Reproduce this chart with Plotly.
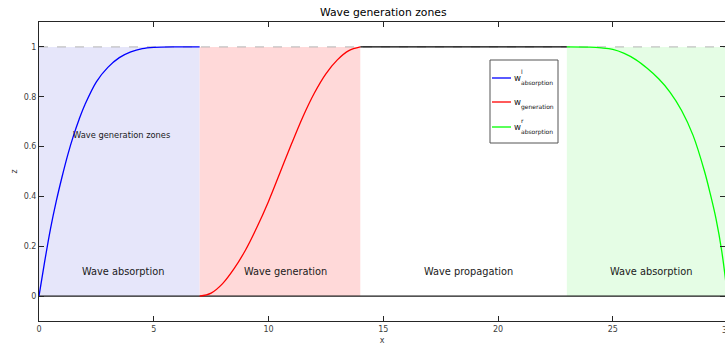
import plotly.graph_objects as go

# Relaxation-zone weighting curves
x_abs_left = [0.0, 0.25, 0.5, 0.75, 1.0, 1.25, 1.5, 1.75, 2.0, 2.5, 3.0, 3.5, 4.0, 4.5, 5.0, 6.0, 7.0]
w_abs_left = [0.0, 0.14, 0.27, 0.38, 0.477, 0.566, 0.643, 0.71, 0.768, 0.86, 0.918, 0.957, 0.98, 0.993, 0.998, 1.0, 1.0]

x_gen = [7.0, 7.5, 8.0, 8.5, 9.0, 9.5, 10.0, 10.5, 11.0, 11.5, 12.0, 12.5, 13.0, 13.5, 14.0]
w_gen = [0.0, 0.012, 0.05, 0.11, 0.185, 0.277, 0.38, 0.495, 0.61, 0.72, 0.815, 0.892, 0.948, 0.985, 1.0]

x_prop = [14.0, 23.0]
w_prop = [1.0, 1.0]

x_abs_right = [23.0, 24.0, 24.5, 25.0, 25.5, 26.0, 26.5, 27.0, 27.5, 28.0, 28.5, 29.0, 29.25, 29.5, 29.75, 30.0]
w_abs_right = [1.0, 0.999, 0.996, 0.99, 0.974, 0.949, 0.914, 0.872, 0.818, 0.745, 0.645, 0.5, 0.41, 0.31, 0.18, 0.0]

# Zones
zone_edges = [0, 7, 14, 23, 30]
zone_fills = ["#e6e6fa", "#ffd9d9", None, "#e5fde5"]
zone_names = ["Wave absorption", "Wave generation", "Wave propagation", "Wave absorption"]
zone_label_x = [1.8, 8.85, 16.7, 24.8]
zone_label_y = 0.1

x_ticks = [0, 5, 10, 15, 20, 25, 30]
y_ticks = [0, 0.2, 0.4, 0.6, 0.8, 1]

legend_labels = [
    ("w", "l", "absorption", "#0000ff"),
    ("w", "", "generation", "#ff0000"),
    ("w", "r", "absorption", "#00ff00"),
]

W, H = 725, 347
ML, MR, MT, MB = 39, 0, 22, 26
PW, PH = W - ML - MR, H - MT - MB
X_SCALE = 22.95          # pixels per x unit; the x axis runs slightly past the right edge
X_MAX = PW / X_SCALE

def px(x):
    return (x - ML) / PW

def py(y):
    return (H - MB - y) / PH

FONT = "DejaVu Sans"

fig = go.Figure()

shapes = []
for i, fc in enumerate(zone_fills):
    if fc is None:
        continue
    shapes.append(dict(type="rect", xref="x", yref="y", x0=zone_edges[i], x1=zone_edges[i + 1],
                       y0=0, y1=1, fillcolor=fc, line=dict(width=0), layer="below"))
# dashed reference line at unit weight
shapes.append(dict(type="line", xref="x", yref="y", x0=zone_edges[0], x1=zone_edges[-1],
                   y0=1, y1=1, line=dict(color="#b4b4b4", width=1, dash="dash"), layer="below"))

# baseline
fig.add_trace(go.Scatter(x=[zone_edges[0], zone_edges[-1]], y=[0, 0], mode="lines",
                         line=dict(color="#1a1a1a", width=1.2), showlegend=False, hoverinfo="skip"))
fig.add_trace(go.Scatter(x=x_prop, y=w_prop, mode="lines",
                         line=dict(color="#000000", width=1.2), showlegend=False))
fig.add_trace(go.Scatter(x=x_abs_left, y=w_abs_left, mode="lines", line_shape="spline",
                         line=dict(color="#0000ff", width=1.3, smoothing=1.0), showlegend=False))
fig.add_trace(go.Scatter(x=x_gen, y=w_gen, mode="lines", line_shape="spline",
                         line=dict(color="#ff0000", width=1.3, smoothing=1.0), showlegend=False))
fig.add_trace(go.Scatter(x=x_abs_right, y=w_abs_right, mode="lines", line_shape="spline",
                         line=dict(color="#00ff00", width=1.3, smoothing=1.0), showlegend=False))

annotations = []
for name, lx in zip(zone_names, zone_label_x):
    annotations.append(dict(x=lx, y=zone_label_y, xref="x", yref="y", text=name, showarrow=False,
                            xanchor="left", yanchor="middle", font=dict(size=9.8, color="#1a1a1a", family=FONT)))
annotations.append(dict(x=1.4, y=0.645, xref="x", yref="y", text="Wave generation zones", showarrow=False,
                        xanchor="left", yanchor="middle", font=dict(size=8.3, color="#1a1a1a", family=FONT)))
# the last tick label sits just past the right edge
annotations.append(dict(x=px(ML + 30 * X_SCALE), y=py(H - MB + 9), xref="paper", yref="paper", text="30",
                        showarrow=False, xanchor="center", yanchor="middle",
                        font=dict(size=8, color="#404040", family=FONT)))

# legend box
shapes.append(dict(type="rect", xref="paper", yref="paper", x0=px(490), x1=px(558), y0=py(143), y1=py(60),
                   fillcolor="white", line=dict(color="#555555", width=1)))
row_y = [78, 102, 127]
for (base, sup, sub, col), ry in zip(legend_labels, row_y):
    shapes.append(dict(type="line", xref="paper", yref="paper", x0=px(492), x1=px(511),
                       y0=py(ry), y1=py(ry), line=dict(color=col, width=1.3)))
    annotations.append(dict(x=px(512), y=py(ry), xref="paper", yref="paper", text=base, showarrow=False,
                            xanchor="left", yanchor="middle", font=dict(size=8.5, color="#111", family=FONT)))
    if sup:
        annotations.append(dict(x=px(519), y=py(ry - 7), xref="paper", yref="paper", text=sup, showarrow=False,
                                xanchor="left", yanchor="middle", font=dict(size=6, color="#111", family=FONT)))
    annotations.append(dict(x=px(518.5), y=py(ry + 5), xref="paper", yref="paper", text=sub, showarrow=False,
                            xanchor="left", yanchor="middle", font=dict(size=6, color="#111", family=FONT)))

axis_common = dict(showline=True, linecolor="#262626", linewidth=1, mirror="allticks",
                   ticks="inside", ticklen=5, tickcolor="#262626", tickwidth=1,
                   showgrid=False, zeroline=False,
                   tickfont=dict(size=8, color="#404040", family=FONT))

fig.update_layout(
    width=W, height=H,
    margin=dict(l=ML, r=MR, t=MT, b=MB),
    paper_bgcolor="white", plot_bgcolor="white",
    title=dict(text="Wave generation zones", x=(ML + 30 * X_SCALE / 2) / W, xanchor="center",
               y=1 - 12 / H, yanchor="middle", yref="container",
               font=dict(size=10.8, color="#000", family=FONT)),
    xaxis=dict(range=[0, X_MAX], tickvals=x_ticks, ticktext=[str(t) for t in x_ticks],
               title=dict(text="x", standoff=4, font=dict(size=8, color="#404040", family=FONT)),
               **axis_common),
    yaxis=dict(range=[-0.1, 1.1], tickvals=y_ticks, ticktext=[f"{t:g}" for t in y_ticks],
               title=dict(text="z", standoff=4, font=dict(size=8, color="#404040", family=FONT)),
               **axis_common),
    shapes=shapes,
    annotations=annotations,
)

fig.write_html("out.html")
